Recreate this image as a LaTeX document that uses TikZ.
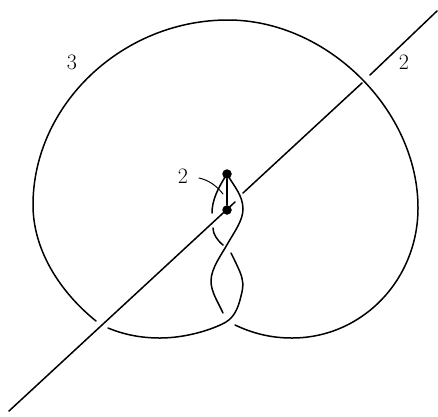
\documentclass[tikz,border=0pt]{standalone}
\tikzset{strand/.style={line width=1.5pt,line cap=round,line join=round},
 lbl/.style={font=\fontsize{22}{22}\selectfont,inner sep=0pt},
 vertexdot/.style={circle,fill=black,inner sep=0pt,minimum size=9.5pt}}
\begin{document}
\begin{tikzpicture}[x=1pt,y=-1pt]
\useasboundingbox (0,0) rectangle (438,416);
\node[vertexdot] (p) at (227,174) {};
\node[vertexdot] (q) at (227,210) {};
\coordinate (a1) at (9,411);
\coordinate (a2) at (235,202);
\coordinate (b1) at (243,193);
\coordinate (b2) at (362,83);
\coordinate (c1) at (370,75);
\coordinate (c2) at (437,11);
\draw[strand] (a1) -- (a2);
\draw[strand] (b1) -- (b2);
\draw[strand] (c1) -- (c2);
\draw[strand] (p) -- (q);
% big outer strand
\draw[strand] (96,321) .. controls (60,292) and (33,250) .. (33,205)
  .. controls (33,105) and (122,20) .. (228,20)
  .. controls (327,20) and (418,110) .. (418,208)
  .. controls (418,280) and (362,338) .. (292,338)
  .. controls (270,338) and (252,333) .. (235,325);
% lower left and up
\draw[strand] (108,328) .. controls (125,335) and (142,338) .. (160,338)
  .. controls (185,338) and (212,330) .. (226,322)
  .. controls (234,317) and (238,309) .. (241,296)
  .. controls (244,285) and (243,280) .. (240,272)
  .. controls (237,265) and (234,259) .. (231,253);
\draw[strand] (223,313) .. controls (218,302) and (211,292) .. (211,281)
  .. controls (211,268) and (222,254) .. (228,243)
  .. controls (235,231) and (243,220) .. (243,209)
  .. controls (243,195) and (233,185) .. (p.center);
\draw[strand] (223,245) .. controls (217,240) and (213,234) .. (213,228);
\draw[strand] (212,213) .. controls (212,200) and (218,188) .. (p.center);
\draw[line width=1pt,line cap=round] (199,178) .. controls (208,180) and (216,185) .. (223,194);
\node[lbl] (l1) at (183,176.5) {2};
\node[lbl] (l2) at (72,62) {3};
\node[lbl] (l3) at (404,62) {2};
\end{tikzpicture}
\end{document}
